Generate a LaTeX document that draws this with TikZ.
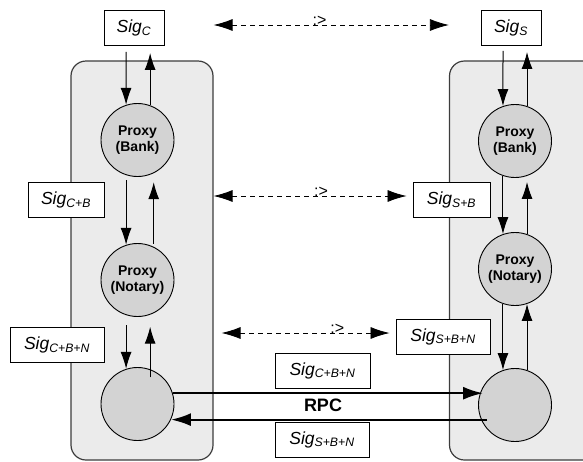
\documentclass[tikz,border=0pt]{standalone}
\usepackage{fontspec}
\setmainfont{Liberation Sans}
\usetikzlibrary{positioning,arrows.meta}

\definecolor{panelgray}{HTML}{EBEBEB}
\definecolor{proxygray}{HTML}{D3D3D3}
\definecolor{edgegray}{HTML}{3C3C3C}

\newcommand{\sig}[1]{\textit{Sig}\textsubscript{\textit{#1}}}

\tikzset{
    panel/.style={draw=edgegray, line width=1.2pt, fill=panelgray, rounded corners=15pt, inner sep=0pt},
    proxy/.style={circle, draw, line width=0.9pt, fill=proxygray, minimum size=73pt, inner sep=0pt, align=center,
        font=\fontsize{14}{16}\selectfont\bfseries},
    sigbox/.style={draw, line width=0.9pt, fill=white, minimum height=35pt, inner xsep=0pt,
        font=\fontsize{17.5}{20}\selectfont},
    link/.style={line width=1pt, -{Latex[length=17pt,width=11pt]}},
    rpc/.style={line width=2.2pt, -{Latex[length=20pt,width=13pt]}},
    equiv/.style={line width=0.8pt, dash pattern=on 5pt off 4pt,
        {Latex[length=19pt,width=12pt]}-{Latex[length=19pt,width=12pt]}},
    eqlabel/.style={anchor=base, inner sep=0pt, font=\fontsize{16}{18}\selectfont},
}

\begin{document}
\begin{tikzpicture}[x=1pt, y=-1pt, on grid]
    \clip (0,0) rectangle (583,461);

    % panels
    \node[panel, minimum width=142pt, minimum height=399pt] (client) at (142,260.5) {};
    \node[panel, minimum width=150.5pt, minimum height=399pt] (server) at (524.75,260.5) {};

    % client side
    \node[proxy] (bankC) at (137.5,140) {Proxy\\(Bank)};
    \node[proxy, below=140pt of bankC] (notaryC) {Proxy\\(Notary)};
    \node[proxy, below=124pt of notaryC] (endC) {};

    \node[sigbox, minimum width=60pt] (sigC) at (134,28) {\sig{C}};
    \node[sigbox, minimum width=76pt] (sigCB) at (66,200) {\sig{C+B}};
    \node[sigbox, minimum width=94pt] (sigCBN) at (57,345) {\sig{C+B+N}};

    % server side
    \node[proxy] (bankS) at (515,141) {Proxy\\(Bank)};
    \node[proxy, below=128pt of bankS] (notaryS) {Proxy\\(Notary)};
    \node[proxy, below=136pt of notaryS] (endS) {};

    \node[sigbox, minimum width=60pt] (sigS) at (511,28) {\sig{S}};
    \node[sigbox, minimum width=77pt] (sigSB) at (451.5,200) {\sig{S+B}};
    \node[sigbox, minimum width=94pt] (sigSBN) at (443,336.5) {\sig{S+B+N}};

    % rpc
    \node[sigbox, minimum width=95pt] (rpcreq) at (322.5,370.5) {\sig{C+B+N}};
    \node[sigbox, minimum width=94pt] (rpcresp) at (322,439.5) {\sig{S+B+N}};
    \node[font=\fontsize{18}{20}\selectfont\bfseries] (rpc) at (323,405) {RPC};

    \draw[rpc, shorten >=-5pt] (endC.17) -- (endC.17 -| endS.west);
    \draw[rpc, shorten <=-9pt] (endS.west |- endC.-25) -- (endC.-25);

    % client links
    \draw[link, shorten <=6pt] ([xshift=-8pt]sigC.south) -- (bankC.108);
    \draw[link, shorten >=7pt] (bankC.70) -- (bankC.70 |- sigC.south);
    \draw[link, shorten <=5pt] (bankC.-108) -- (notaryC.108);
    \draw[link, shorten <=3pt, shorten >=9pt] (notaryC.64) -- (bankC.-64);
    \draw[link, shorten <=10pt] (notaryC.-108) -- (endC.108);
    \draw[link, shorten <=-8pt, shorten >=12pt] (endC.70) -- (notaryC.-70);

    % server links
    \draw[link, shorten <=5pt] ([xshift=-8pt]sigS.south) -- (bankS.109);
    \draw[link, shorten >=6pt] (bankS.71) -- (bankS.71 |- sigS.south);
    \draw[link] (bankS.-109) -- (notaryS.109);
    \draw[link, shorten >=6pt] (notaryS.71) -- (bankS.-71);
    \draw[link] (notaryS.-109) -- (endS.109);
    \draw[link] (endS.71) -- (notaryS.-71);

    % equivalences
    \draw[equiv] (client.east |- 0,25) -- node[eqlabel, pos=.45] {:>} (server.west |- 0,25);
    \draw[equiv, shorten >=6pt] (client.east |- 0,196) -- node[eqlabel, pos=.54] {:>} (sigSB.west |- 0,196);
    \draw[equiv, shorten <=8pt, shorten >=6pt] (client.east |- 0,333) -- node[eqlabel, pos=.68] {:>} (sigSBN.west |- 0,333);
\end{tikzpicture}
\end{document}
